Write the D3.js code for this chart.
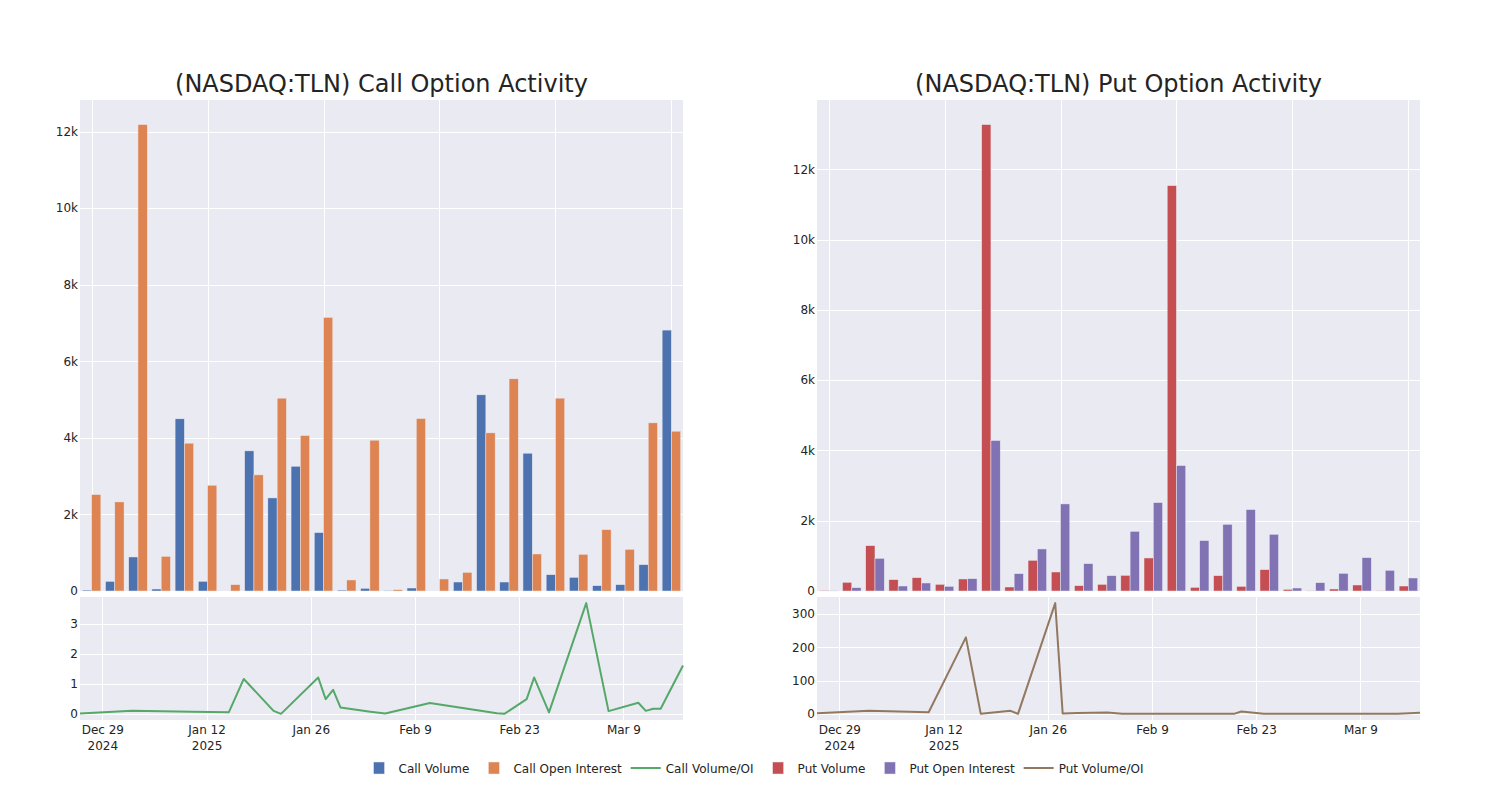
<!DOCTYPE html>
<html><head><meta charset="utf-8">
<script src="https://cdn.jsdelivr.net/npm/d3@7"></script>
<style>
body{margin:0;background:#fff;}
text{font-family:"DejaVu Sans",sans-serif;fill:rgb(36,36,36);}
</style>
</head><body>
<svg id="chart" width="1500" height="800"></svg>
<script>
// ---------- DATA ----------
const dates = ["2024-12-26","2025-01-02","2025-01-10","2025-01-15","2025-01-17","2025-01-21","2025-01-22","2025-01-27","2025-01-28","2025-01-29","2025-01-30","2025-02-03","2025-02-05","2025-02-11","2025-02-20","2025-02-21","2025-02-24","2025-02-25","2025-02-27","2025-03-04","2025-03-07","2025-03-11","2025-03-12","2025-03-13","2025-03-14","2025-03-17"];
const callVolume = [25,253,889,52,4497,253,0,3660,2431,3259,1525,25,70,15,78,0,235,5124,235,3599,427,357,139,166,688,6815];
const callOpenInterest = [2519,2327,12183,906,3861,2763,166,3033,5037,4061,7146,288,3939,35,4505,314,488,4131,5542,967,5037,959,1603,1089,4392,4174];
const callVolumeOI = [0.01,0.1,0.07,0.055,1.16,0.1,0.0,1.21,0.49,0.8,0.21,0.07,0.01,0.36,0.02,0.0,0.49,1.21,0.05,3.68,0.09,0.37,0.1,0.17,0.17,1.61];
const putVolume = [19,247,1291,323,380,190,342,13273,114,873,541,152,190,446,940,11535,104,437,133,608,47,10,57,171,10,142];
const putOpenInterest = [5,95,930,142,228,133,351,4282,494,1196,2478,779,437,1699,2516,3570,1434,1899,2317,1614,85,237,503,949,589,370];
const putVolumeOI = [2,9,5,230,0,9,0,333,1,2,2.5,4,0,0,0,7,0,0,0,0,0,0,0,0,0,3];

const barTicks = [0,2000,4000,6000,8000,10000,12000];
const callRatioTicks = [0,1,2,3];
const putRatioTicks = [0,100,200,300];
const dateTicks = ["2024-12-29","2025-01-12","2025-01-26","2025-02-09","2025-02-23","2025-03-09"];
const dateTickLine1 = ["Dec 29","Jan 12","Jan 26","Feb 9","Feb 23","Mar 9"];
const dateTickLine2 = ["2024","2025","","","",""];
const titles = ["(NASDAQ:TLN) Call Option Activity","(NASDAQ:TLN) Put Option Activity"];
const legendNames = ["Call Volume","Call Open Interest","Call Volume/OI","Put Volume","Put Open Interest","Put Volume/OI"];
const legendKinds = ["bar","bar","line","bar","bar","line"];

// ---------- STYLE ----------
const C = {
  blue:"rgb(76,114,176)", orange:"rgb(221,132,82)", green:"rgb(85,168,104)",
  red:"rgb(196,78,82)", purple:"rgb(129,114,179)", brown:"rgb(147,120,96)",
  bg:"rgb(234,234,242)"
};
const legendColors = [C.blue,C.orange,C.green,C.red,C.purple,C.brown];

const svg = d3.select("#chart");
const parse = d3.timeParse("%Y-%m-%d");
const dateObjs = dates.map(parse);

const barTop = 100, barBottom = 591, lineTop = 597, lineBottom = 720;

function panel(cfg){
  const {x0,x1,vol,oi,ratio,ratioTicks,colA,colB,colLine,title} = cfg;
  const g = svg.append("g");
  g.append("rect").attr("x",x0).attr("y",barTop).attr("width",x1-x0).attr("height",barBottom-barTop).attr("fill",C.bg);
  g.append("rect").attr("x",x0).attr("y",lineTop).attr("width",x1-x0).attr("height",lineBottom-lineTop).attr("fill",C.bg);

  const xb = d3.scaleBand().domain(dates).range([x0,x1]).paddingInner(0).paddingOuter(0);
  const maxBar = d3.max(vol.concat(oi));
  const yb = d3.scaleLinear().domain([0, maxBar/0.95]).range([barBottom, barTop]);
  const gridCats = dates.filter((d,i)=>i%5===0);
  g.selectAll(null).data(gridCats).enter().append("line")
    .attr("x1",d=>Math.round(xb(d)+xb.bandwidth()/2)+0.5).attr("x2",d=>Math.round(xb(d)+xb.bandwidth()/2)+0.5)
    .attr("y1",barTop).attr("y2",barBottom).attr("stroke","#fff").attr("stroke-width",1);
  g.selectAll(null).data(barTicks).enter().append("line")
    .attr("x1",x0).attr("x2",x1).attr("y1",d=>Math.round(yb(d))+0.5).attr("y2",d=>Math.round(yb(d))+0.5)
    .attr("stroke","#fff").attr("stroke-width",1);
  const bw = xb.bandwidth();
  const sub = d3.scaleBand().domain(["a","b"]).range([0.1*bw,0.9*bw]).padding(0);
  const bars = g.append("g");
  [["a",vol,colA],["b",oi,colB]].forEach(([k,arr,col])=>{
    bars.selectAll(null).data(arr).enter().append("rect")
      .attr("x",(d,i)=>xb(dates[i])+sub(k))
      .attr("width",sub.bandwidth())
      .attr("y",d=>yb(d)).attr("height",d=>barBottom-yb(d))
      .attr("fill",col).attr("stroke",C.bg).attr("stroke-width",0.5);
  });
  const ay = d3.axisLeft(yb).tickValues(barTicks).tickSize(0).tickPadding(2).tickFormat(d3.format("~s"));
  const ga = g.append("g").attr("transform",`translate(${x0},0)`).call(ay);
  ga.select(".domain").remove();
  ga.selectAll("text").style("font-size","12px").attr("fill","rgb(36,36,36)").style("font-family","DejaVu Sans");

  const xt = d3.scaleTime().domain([dateObjs[0], dateObjs[dateObjs.length-1]]).range([x0,x1]);
  const rmin = d3.min(ratio), rmax = d3.max(ratio), span = rmax-rmin;
  const yl = d3.scaleLinear().domain([rmin-span/18, rmax+span/18]).range([lineBottom,lineTop]);
  const dtObjs = dateTicks.map(parse);
  g.selectAll(null).data(dtObjs).enter().append("line")
    .attr("x1",d=>Math.round(xt(d))+0.5).attr("x2",d=>Math.round(xt(d))+0.5)
    .attr("y1",lineTop).attr("y2",lineBottom).attr("stroke","#fff").attr("stroke-width",1);
  g.selectAll(null).data(ratioTicks).enter().append("line")
    .attr("x1",x0).attr("x2",x1).attr("y1",d=>Math.round(yl(d))+0.5).attr("y2",d=>Math.round(yl(d))+0.5)
    .attr("stroke","#fff").attr("stroke-width",1);
  const line = d3.line().x((d,i)=>xt(dateObjs[i])).y(d=>yl(d));
  g.append("path").datum(ratio).attr("d",line).attr("fill","none").attr("stroke",colLine).attr("stroke-width",2).attr("stroke-linejoin","round");
  const ayl = d3.axisLeft(yl).tickValues(ratioTicks).tickSize(0).tickPadding(2).tickFormat(d3.format("d"));
  const gl = g.append("g").attr("transform",`translate(${x0},0)`).call(ayl);
  gl.select(".domain").remove();
  gl.selectAll("text").style("font-size","12px").attr("fill","rgb(36,36,36)").style("font-family","DejaVu Sans");
  const ax = d3.axisBottom(xt).tickValues(dtObjs).tickSize(0).tickPadding(0).tickFormat("");
  const gx = g.append("g").attr("transform",`translate(0,${lineBottom})`).call(ax);
  gx.select(".domain").remove();
  gx.selectAll(".tick").each(function(d,i){
    const t = d3.select(this).append("text").attr("text-anchor","middle").style("font-size","12px");
    t.append("tspan").attr("x",0).attr("y",14).text(dateTickLine1[i]);
    if(dateTickLine2[i]) t.append("tspan").attr("x",0).attr("y",30).text(dateTickLine2[i]);
  });
  g.append("text").attr("x",(x0+x1)/2).attr("y",92).attr("text-anchor","middle")
    .style("font-size","24px").text(title);
}

panel({x0:80,x1:683,vol:callVolume,oi:callOpenInterest,ratio:callVolumeOI,ratioTicks:callRatioTicks,
  colA:C.blue,colB:C.orange,colLine:C.green,title:titles[0]});
panel({x0:817,x1:1420,vol:putVolume,oi:putOpenInterest,ratio:putVolumeOI,ratioTicks:putRatioTicks,
  colA:C.red,colB:C.purple,colLine:C.brown,title:titles[1]});

// legend
const lg = svg.append("g");
const gap = 4;
let x = 0;
legendNames.forEach((name,i)=>{
  const it = lg.append("g");
  const t = it.append("text").attr("x",40).attr("y",4.5).style("font-size","12px").text(name);
  const w = t.node().getComputedTextLength();
  if(legendKinds[i]==="bar"){
    it.append("rect").attr("x",15).attr("y",-6).attr("width",11).attr("height",12)
      .attr("fill",legendColors[i]).attr("stroke",C.bg).attr("stroke-width",0.5);
  } else {
    it.append("line").attr("x1",5).attr("x2",35).attr("y1",0).attr("y2",0)
      .attr("stroke",legendColors[i]).attr("stroke-width",2);
  }
  it.attr("transform",`translate(${x},0)`);
  x += 40 + w + gap;
});
const total = x - gap;
lg.attr("transform",`translate(${751 - total/2},768)`);
</script>
</body></html>
